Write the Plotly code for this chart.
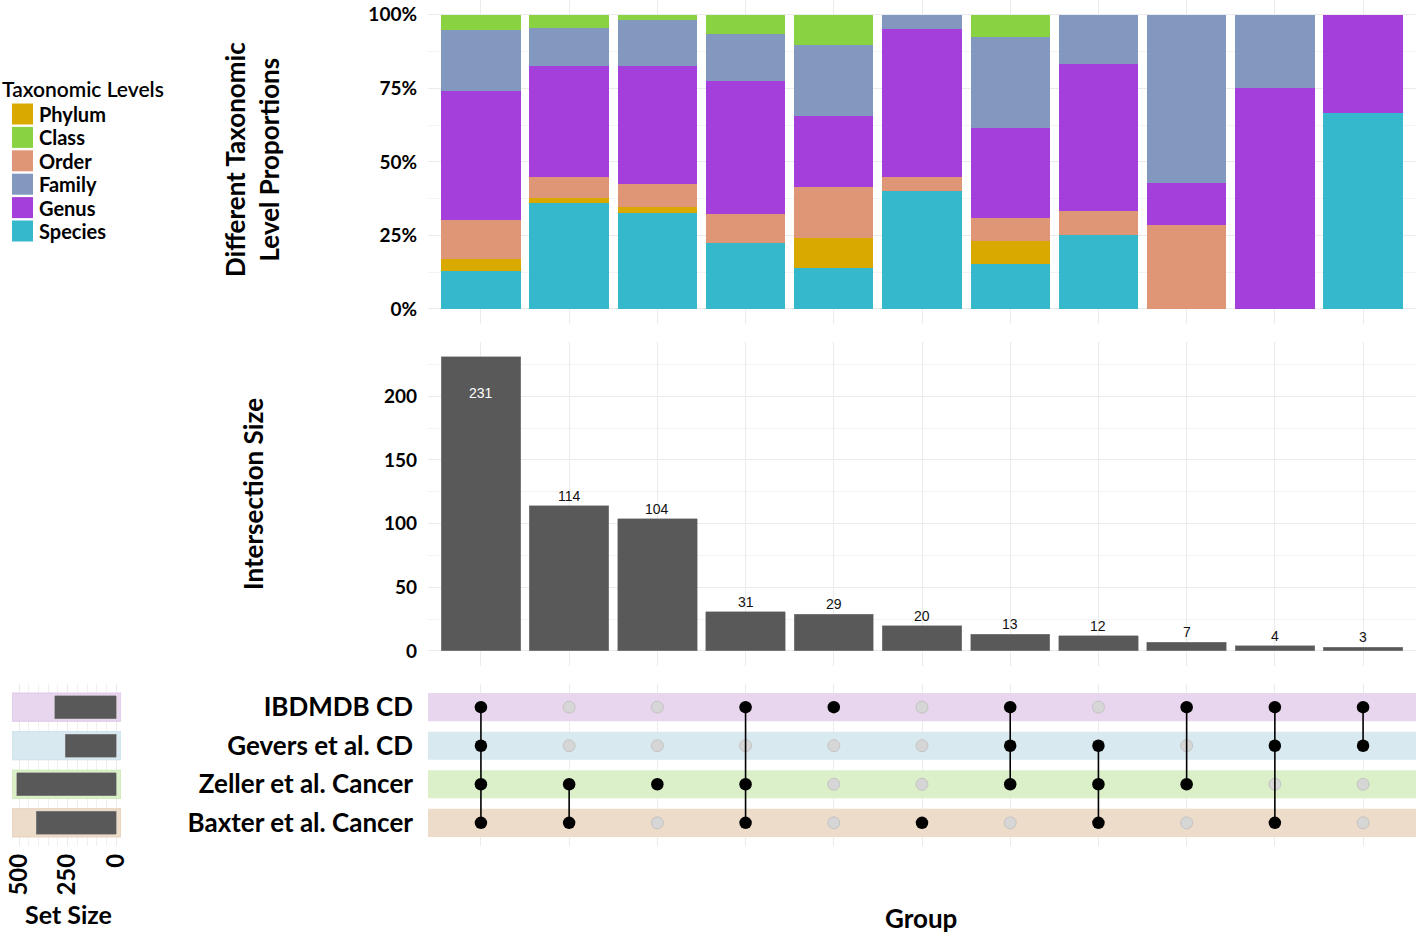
import plotly.graph_objects as go

W, H = 1416, 933

# ---------------- data ----------------
sets = ["IBDMDB CD", "Gevers et al. CD", "Zeller et al. Cancer", "Baxter et al. Cancer"]
set_sizes = [318, 263, 512, 412]
set_colors = ["#E8D6EE", "#D8E9F0", "#DBF0C8", "#EEDCCA"]
set_edges = ["#E0C6EA", "#CCE2EC", "#C9EAB0", "#E6CFB9"]

intersection_sizes = [231, 114, 104, 31, 29, 20, 13, 12, 7, 4, 3]
membership = [
    ["IBDMDB CD", "Gevers et al. CD", "Zeller et al. Cancer", "Baxter et al. Cancer"],
    ["Zeller et al. Cancer", "Baxter et al. Cancer"],
    ["Zeller et al. Cancer"],
    ["IBDMDB CD", "Zeller et al. Cancer", "Baxter et al. Cancer"],
    ["IBDMDB CD"],
    ["Baxter et al. Cancer"],
    ["IBDMDB CD", "Gevers et al. CD", "Zeller et al. Cancer"],
    ["Gevers et al. CD", "Zeller et al. Cancer", "Baxter et al. Cancer"],
    ["IBDMDB CD", "Zeller et al. Cancer"],
    ["IBDMDB CD", "Gevers et al. CD", "Baxter et al. Cancer"],
    ["IBDMDB CD", "Gevers et al. CD"],
]

# taxonomic-level counts per intersection
phylum = [9, 2, 2, 0, 3, 0, 1, 0, 0, 0, 0]
class_ = [12, 5, 2, 2, 3, 0, 1, 0, 0, 0, 0]
order = [31, 8, 8, 3, 5, 1, 1, 1, 2, 0, 0]
family = [48, 15, 16, 5, 7, 1, 4, 2, 4, 1, 0]
genus = [101, 43, 42, 14, 7, 10, 4, 6, 1, 3, 1]
species = [30, 41, 34, 7, 4, 8, 2, 3, 0, 0, 2]

legend_title = "Taxonomic Levels"
legend_levels = ["Phylum", "Class", "Order", "Family", "Genus", "Species"]
level_counts = {"Phylum": phylum, "Class": class_, "Order": order,
                "Family": family, "Genus": genus, "Species": species}
level_colors = {"Phylum": "#D9A900", "Class": "#89D241", "Order": "#DF9677",
                "Family": "#8398BF", "Genus": "#A53FDB", "Species": "#35B8CB"}
stack_order = ["Species", "Phylum", "Order", "Genus", "Family", "Class"]

pct_ticks = [0, 0.25, 0.5, 0.75, 1.0]
pct_labels = ["0%", "25%", "50%", "75%", "100%"]
size_ticks = [0, 50, 100, 150, 200]
set_ticks = [0, 250, 500]

# ---------------- helpers ----------------
def pxx(x):
    return x / W

def pxy(y):
    return 1 - y / H

FONT = "Lato"
GRID = "#EBEBEB"
BAR = "#595959"

n = len(intersection_sizes)
cols = list(range(1, n + 1))
row_of = {s: len(sets) - i for i, s in enumerate(sets)}
xr = [0.4, n + 0.6]
yr_rows = [0.4, len(sets) + 0.6]
max_int = max(intersection_sizes)
max_set = max(set_sizes)
set_range = [1.05 * max_set, -0.05 * max_set]

fig = go.Figure()

# ---- stacked proportion bars ----
for lvl in stack_order:
    counts = level_counts[lvl]
    fig.add_trace(go.Bar(
        x=cols, y=[c / t for c, t in zip(counts, intersection_sizes)],
        marker=dict(color=level_colors[lvl], line=dict(width=0)), width=0.9,
        name=lvl, showlegend=False, xaxis="x", yaxis="y"))

# ---- intersection size bars ----
fig.add_trace(go.Bar(
    x=cols, y=intersection_sizes, width=0.9,
    marker=dict(color=BAR, line=dict(width=0.6, color="#8a8a8a")),
    showlegend=False, xaxis="x2", yaxis="y2"))

annotations = []
for c, v in zip(cols, intersection_sizes):
    inside = v == max_int
    annotations.append(dict(
        x=c, y=v, xref="x2", yref="y2", text=str(v), showarrow=False,
        yanchor="top" if inside else "bottom", yshift=-26 if inside else 0,
        font=dict(family="Liberation Sans, Arial", size=14,
                  color="white" if inside else "#111111")))

# ---- matrix ----
gx, gy, bx, by = [], [], [], []
lx, ly = [], []
for c, mem in zip(cols, membership):
    rows_active = [row_of[s] for s in mem]
    for s in sets:
        if s in mem:
            bx.append(c); by.append(row_of[s])
        else:
            gx.append(c); gy.append(row_of[s])
    if len(rows_active) > 1:
        lx += [c, c, None]
        ly += [min(rows_active), max(rows_active), None]

fig.add_trace(go.Scatter(x=gx, y=gy, mode="markers", showlegend=False,
                         marker=dict(size=12, color="#D6D6D6", line=dict(width=0.8, color="#BDBDBD")),
                         xaxis="x3", yaxis="y3"))
fig.add_trace(go.Scatter(x=lx, y=ly, mode="lines", showlegend=False,
                         line=dict(color="black", width=1.6), xaxis="x3", yaxis="y3"))
fig.add_trace(go.Scatter(x=bx, y=by, mode="markers", showlegend=False,
                         marker=dict(size=12.5, color="black"), xaxis="x3", yaxis="y3"))

# ---- set size bars ----
fig.add_trace(go.Bar(
    x=set_sizes, y=[row_of[s] for s in sets], orientation="h", width=0.6,
    marker=dict(color=BAR, line=dict(width=0.6, color="#8a8a8a")),
    showlegend=False, xaxis="x4", yaxis="y4"))

# ---- row bands ----
shapes = []
for s, col, edge in zip(sets, set_colors, set_edges):
    r = row_of[s]
    shapes.append(dict(type="rect", xref="x3", yref="y3",
                       x0=xr[0], x1=xr[1], y0=r - 0.365, y1=r + 0.365,
                       fillcolor=col, line=dict(width=0), layer="between"))
    shapes.append(dict(type="rect", xref="x4", yref="y4",
                       x0=set_range[0], x1=set_range[1], y0=r - 0.365, y1=r + 0.365,
                       fillcolor=col, line=dict(width=1, color=edge), layer="between"))

# ---- legend (drawn as paper-positioned keys) ----
leg_font = dict(family=FONT, size=20, color="black", weight="bold")
annotations.append(dict(x=0.0, y=pxy(89), xref="paper", yref="paper", showarrow=False,
                        text=legend_title, xanchor="left", yanchor="middle",
                        font=dict(family=FONT, size=21, color="black", weight=600)))
for i, lvl in enumerate(legend_levels):
    cy = 114 + 23.4 * i
    shapes.append(dict(type="rect", xref="paper", yref="paper",
                       x0=pxx(12), x1=pxx(33), y0=pxy(cy + 10.5), y1=pxy(cy - 10.5),
                       fillcolor=level_colors[lvl], line=dict(width=0)))
    annotations.append(dict(x=pxx(37), y=pxy(cy), xref="paper", yref="paper",
                            showarrow=False, text=lvl, xanchor="left", yanchor="middle",
                            font=leg_font))

# ---- titles ----
title_font = dict(family=FONT, size=26, color="black", weight="bold")
annotations += [
    dict(x=pxx(252), y=pxy(160), xref="paper", yref="paper", showarrow=False,
         text="Different Taxonomic<br>Level Proportions", textangle=-90,
         font=title_font, xanchor="center", yanchor="middle"),
    dict(x=pxx(253), y=pxy(494), xref="paper", yref="paper", showarrow=False,
         text="Intersection Size", textangle=-90, font=title_font,
         xanchor="center", yanchor="middle"),
    dict(x=pxx(921), y=pxy(918), xref="paper", yref="paper", showarrow=False,
         text="Group", font=title_font, xanchor="center", yanchor="middle"),
    dict(x=pxx(68), y=pxy(914), xref="paper", yref="paper", showarrow=False,
         text="Set Size", font=dict(family=FONT, size=25, color="black", weight="bold"),
         xanchor="center", yanchor="middle"),
]

tick_font = dict(family=FONT, size=19, color="black", weight="bold")
xdom = [pxx(428), 1.0]
common = dict(zeroline=False, ticks="", automargin=False)

fig.update_layout(
    width=W, height=H, autosize=False,
    margin=dict(l=0, r=0, t=0, b=0, pad=0, autoexpand=False),
    paper_bgcolor="white", plot_bgcolor="white",
    barmode="stack", bargap=0.1, showlegend=False,
    font=dict(family=FONT, color="black"),
    shapes=shapes, annotations=annotations,
    xaxis=dict(domain=xdom, anchor="y", range=xr, tickvals=cols, showticklabels=False,
               showgrid=True, gridcolor=GRID, **common),
    yaxis=dict(domain=[pxy(323.7), 1.0], anchor="x", range=[-0.05, 1.05],
               tickvals=pct_ticks, ticktext=pct_labels, tickfont=tick_font,
               showgrid=True, gridcolor=GRID, ticklabelstandoff=10,
               minor=dict(tickvals=[0.125, 0.375, 0.625, 0.875], showgrid=True,
                          gridcolor="#F3F3F3"), **common),
    xaxis2=dict(domain=xdom, anchor="y2", range=xr, tickvals=cols, showticklabels=False,
                showgrid=True, gridcolor=GRID, **common),
    yaxis2=dict(domain=[pxy(665.7), pxy(342)], anchor="x2",
                range=[-0.05 * max_int, 1.05 * max_int],
                tickvals=size_ticks, tickfont=tick_font,
                showgrid=True, gridcolor=GRID, ticklabelstandoff=10,
                minor=dict(tickvals=[25, 75, 125, 175, 225], showgrid=True,
                           gridcolor="#F3F3F3"), **common),
    xaxis3=dict(domain=xdom, anchor="y3", range=xr, tickvals=cols, showticklabels=False,
                showgrid=True, gridcolor=GRID, **common),
    yaxis3=dict(domain=[pxy(846), pxy(684)], anchor="x3", range=yr_rows,
                tickvals=[row_of[s] for s in sets], ticktext=sets,
                tickfont=dict(family=FONT, size=26, color="black", weight="bold"),
                showgrid=False, ticklabelstandoff=14, **common),
    xaxis4=dict(domain=[pxx(12), pxx(121)], anchor="y4", range=set_range,
                tickvals=set_ticks, tickangle=-90,
                tickfont=dict(family=FONT, size=24, color="black", weight="bold"),
                showgrid=True, gridcolor=GRID, ticklabelstandoff=2,
                minor=dict(dtick=50, showgrid=True, gridcolor="#F0F0F0"), **common),
    yaxis4=dict(domain=[pxy(846), pxy(684)], anchor="x4", range=yr_rows,
                showticklabels=False, showgrid=False, **common),
)

post = ("document.documentElement.style.margin='0';"
        "document.body.style.margin='0';document.body.style.padding='0';"
        "document.body.style.overflow='hidden';"
        "var gd=document.getElementById('{plot_id}');"
        "Plotly.relayout(gd,{width:%d,height:%d});" % (W, H))

fig.write_html("out.html",
               config={"responsive": False, "displayModeBar": False},
               post_script=post)
